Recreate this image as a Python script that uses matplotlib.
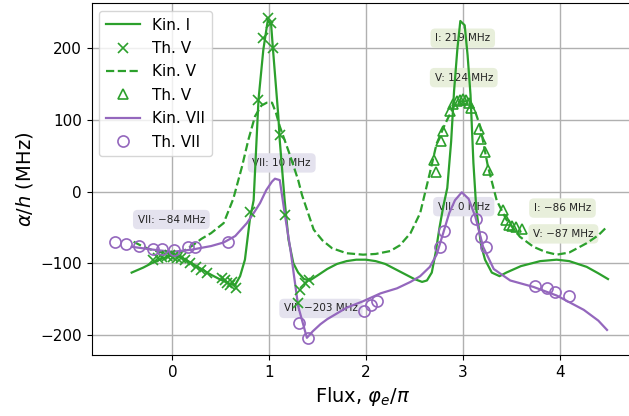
import matplotlib
matplotlib.use("Agg")
import matplotlib.pyplot as plt

# ---- data ----
kin1_x = [-0.42, -0.3, -0.2, -0.1, 0.0, 0.1, 0.2, 0.3, 0.4, 0.5, 0.6, 0.65, 0.70, 0.75, 0.80,
          0.84, 0.865, 0.89, 0.94, 0.985, 1.02, 1.04, 1.095, 1.11, 1.16, 1.20, 1.25, 1.30, 1.36,
          1.42, 1.5, 1.6, 1.7, 1.8, 1.9, 2.0, 2.1, 2.2, 2.3, 2.4, 2.5, 2.58, 2.63, 2.68, 2.72,
          2.76, 2.80, 2.84, 2.88, 2.91, 2.945, 2.975, 3.02, 3.05, 3.08, 3.11, 3.14, 3.19, 3.23,
          3.30, 3.38, 3.45, 3.6, 3.8, 3.97, 4.1, 4.28, 4.4, 4.5]
kin1_y = [-113, -106, -99, -93, -89, -92, -100, -108, -116, -123, -129, -130, -118, -95, -40,
          -12, 58, 128, 198, 238, 234, 198, 105, 71, -12, -67, -100, -113, -122,
          -124, -117, -108, -101, -97, -95, -95, -97, -101, -108, -115, -122, -126, -124, -113, -85,
          -50, -20, 5, 70, 140, 200, 238, 232, 190, 135, 40, -25, -75, -95,
          -113, -118, -113, -104, -97, -95, -97, -105, -114, -122]

kin5_x = [-0.40, -0.3, -0.2, -0.1, 0.0, 0.1, 0.2, 0.3, 0.4, 0.53, 0.63, 0.72, 0.785, 0.854, 0.92,
          0.975, 1.03, 1.07, 1.11, 1.22, 1.30, 1.34, 1.46, 1.55, 1.65, 1.8, 1.97, 2.1, 2.25, 2.35,
          2.46, 2.56, 2.66, 2.73, 2.82, 2.92, 2.97, 3.06, 3.12, 3.18, 3.26, 3.35, 3.45, 3.59, 3.73,
          3.85, 3.97, 4.1, 4.28, 4.4, 4.49]
kin5_y = [-70, -77, -82, -85, -86, -84, -76, -66, -58, -44, -10, 35, 72, 105, 120,
          124, 124, 110, 91, 49, 16, -5, -53, -68, -79, -86, -88, -87, -83, -75,
          -58, -30, 26, 67, 95, 122, 126, 126, 115, 91, 35, -12, -39, -63, -77,
          -84, -88, -85, -72, -61, -49]

kin7_x = [-0.42, -0.2, 0.0, 0.2, 0.4, 0.53, 0.65, 0.77, 0.85, 0.906, 0.97, 1.03, 1.06, 1.11,
          1.16, 1.22, 1.30, 1.39, 1.45, 1.53, 1.6, 1.8, 1.97, 2.15, 2.32, 2.46, 2.56, 2.66, 2.73,
          2.80, 2.86, 2.92, 2.99, 3.06, 3.13, 3.21, 3.32, 3.49, 3.73, 3.97, 4.25, 4.4, 4.49]
kin7_y = [-77, -81, -84, -81, -76, -71, -62, -44, -28, -16, 2, 14, 18, 16,
          -30, -81, -160, -204, -195, -185, -178, -162, -153, -142, -135, -126, -118, -105, -88,
          -57, -30, -12, -1, -10, -35, -77, -108, -124, -133, -145, -165, -180, -193]

th5x_x = [-0.195, -0.15, -0.11, -0.06, -0.02, 0.01, 0.05, 0.09, 0.13, 0.18, 0.24, 0.30, 0.36,
          0.51, 0.54, 0.56, 0.60, 0.62, 0.66,
          0.80, 0.89, 0.94, 0.99, 1.016, 1.043, 1.11, 1.16, 1.30, 1.32, 1.37, 1.41]
th5x_y = [-95, -93, -91, -90, -89, -91, -92, -93, -95, -100, -105, -109, -113,
          -120, -124, -128, -130, -126, -134,
          -28, 128, 214, 242, 235, 200, 79, -33, -156, -137, -128, -123]

th5t_x = [2.70, 2.72, 2.78, 2.80, 2.87, 2.90, 2.94, 2.97, 3.00, 3.03, 3.06, 3.09, 3.17, 3.19,
          3.23, 3.26, 3.42, 3.45, 3.48, 3.51, 3.55, 3.61]
th5t_y = [44, 28, 70, 84, 112, 122, 126, 128, 129, 128, 124, 116, 88, 73,
          55, 30, -25, -39, -47, -48, -49, -52]

th7_x = [-0.59, -0.48, -0.34, -0.196, -0.11, 0.02, 0.16, 0.235, 0.57, 1.31, 1.40, 1.98, 2.05,
         2.11, 2.77, 2.81, 3.14, 3.19, 3.24, 3.75, 3.87, 3.95, 4.10]
th7_y = [-70, -73, -76, -80, -80, -81, -78, -77, -70, -183, -204, -166, -158,
         -153, -77, -55, -38, -63, -78, -132, -134, -140, -146]

legend_labels = ["Kin. I", "Th. V", "Kin. V", "Th. V", "Kin. VII", "Th. VII"]

ann_texts = ["VII: \u221284 MHz", "VII: 10 MHz", "VII: \u2212203 MHz", "I: 219 MHz",
             "V: 124 MHz", "VII: 0 MHz", "I: \u221286 MHz", "V: \u221287 MHz"]
ann_x = [-0.01, 1.13, 1.535, 3.0, 3.01, 3.01, 4.03, 4.04]
ann_y = [-39, 40, -163, 214, 159, -21, -23, -59]
ann_kind = ["VII", "VII", "VII", "I", "V", "VII", "I", "V"]

# ---- style ----
green = "#2ca02c"
purple = "#9467bd"
box_fc = {"I": "#e8efdb", "V": "#e8efdb", "VII": "#e4e2ee"}

fig = plt.figure(figsize=(6.29, 4.16), dpi=100)
ax = fig.add_axes([0.1456, 0.1466, 0.861, 0.846])
ax.set_axisbelow(True)
ax.grid(True, color="#b0b0b0", linewidth=1.0)

lw = 1.6
ax.plot(kin1_x, kin1_y, color=green, lw=lw, label=legend_labels[0], zorder=2)
ax.plot(th5x_x, th5x_y, ls="none", marker="x", ms=7.5, mew=1.2, color=green,
        label=legend_labels[1], zorder=3)
ax.plot(kin5_x, kin5_y, color=green, lw=lw, ls="--", label=legend_labels[2], zorder=2)
ax.plot(th5t_x, th5t_y, ls="none", marker="^", ms=7, mew=1.2, mfc="none", color=green,
        label=legend_labels[3], zorder=3)
ax.plot(kin7_x, kin7_y, color=purple, lw=lw, label=legend_labels[4], zorder=2.5)
ax.plot(th7_x, th7_y, ls="none", marker="o", ms=8, mew=1.2, mfc="none", color=purple,
        label=legend_labels[5], zorder=3)

for t, x, y, k in zip(ann_texts, ann_x, ann_y, ann_kind):
    ax.text(x, y, t, fontsize=7.5, ha="center", va="center", color="#222222", zorder=1.5,
            bbox=dict(boxstyle="round,pad=0.45", fc=box_fc[k], ec="none"))

ax.set_xlim(-0.834, 4.76)
ax.set_ylim(-228, 263)
ax.set_xticks([0, 1, 2, 3, 4])
ax.set_yticks([-200, -100, 0, 100, 200])
ax.tick_params(labelsize=11)
ax.set_xlabel(r"Flux, $\varphi_e/\pi$", fontsize=14)
ax.set_ylabel(r"$\alpha/h$ (MHz)", fontsize=14)

ax.legend(loc="upper left", fontsize=11, labelspacing=0.55, borderpad=0.45,
          handlelength=2.2, framealpha=0.8)

fig.savefig("out.png", dpi=100)
